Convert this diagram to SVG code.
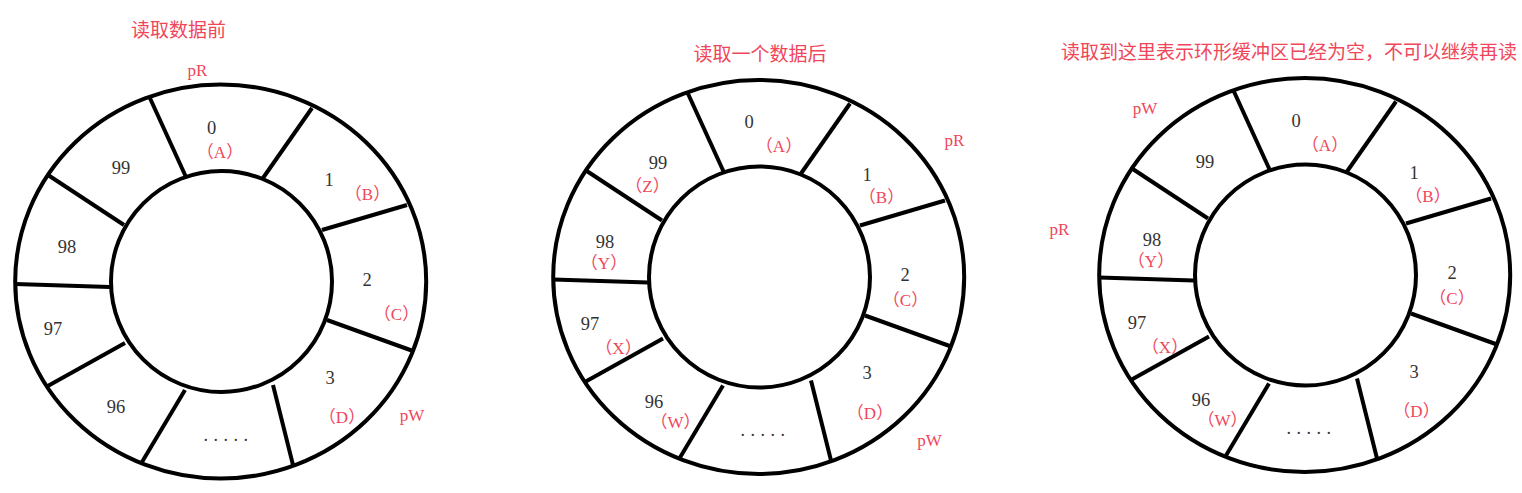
<svg xmlns="http://www.w3.org/2000/svg" xmlns:xlink="http://www.w3.org/1999/xlink" width="1522" height="493" viewBox="0 0 1522 493">
<style>
  .ring { fill: none; stroke: #000; stroke-width: 4; }
  .div { stroke: #000; stroke-width: 4; stroke-linecap: butt; }
  .num { font-family: "Liberation Serif", serif; font-size: 18.5px; fill: #333; text-anchor: middle; }
  .lbl { font-family: "Liberation Serif", "Noto Sans CJK SC", serif; font-size: 17px; fill: #f0465a; text-anchor: middle; }
  .ptr { font-family: "Liberation Serif", serif; font-size: 17px; fill: #f0465a; text-anchor: middle; }
  .title { font-family: "Noto Sans CJK SC", sans-serif; font-size: 19px; fill: #f0465a; text-anchor: middle; }
  .dots { font-family: "Liberation Serif", serif; font-size: 18px; fill: #334; letter-spacing: 5.5px; }
</style>
<defs>
  <g id="ringShape">
    <ellipse class="ring" cx="220.7" cy="281.5" rx="205.5" ry="197"/>
    <circle class="ring" cx="221.5" cy="281.5" r="110.5"/>
    <line class="div" x1="149" y1="96" x2="186" y2="177"/>
    <line class="div" x1="312" y1="108" x2="263" y2="178"/>
    <line class="div" x1="407" y1="205" x2="322" y2="230"/>
    <line class="div" x1="413" y1="351" x2="327" y2="320"/>
    <line class="div" x1="293" y1="465" x2="273" y2="385"/>
    <line class="div" x1="142" y1="462" x2="185" y2="390"/>
    <line class="div" x1="46" y1="387" x2="125" y2="343"/>
    <line class="div" x1="15" y1="284" x2="110" y2="287"/>
    <line class="div" x1="48" y1="175" x2="124" y2="225"/>
  </g>
</defs>

<g id="ring1">
  <text class="title" x="178.5" y="37">读取数据前</text>
  <use xlink:href="#ringShape" href="#ringShape"/>
  <text class="ptr" x="197.5" y="76">pR</text>
  <text class="ptr" x="412" y="421">pW</text>
  <text class="num" x="211.5" y="134">0</text>
  <text class="lbl" x="220" y="158">（A）</text>
  <text class="num" x="121" y="174">99</text>
  <text class="num" x="329" y="186">1</text>
  <text class="lbl" x="367.5" y="200">（B）</text>
  <text class="num" x="67" y="253">98</text>
  <text class="num" x="367" y="286">2</text>
  <text class="lbl" x="396.5" y="320">（C）</text>
  <text class="num" x="53" y="335">97</text>
  <text class="num" x="330" y="384">3</text>
  <text class="lbl" x="342" y="423">（D）</text>
  <text class="num" x="116" y="413">96</text>
  <text class="dots" x="203.5" y="441">.....</text>
</g>

<g id="ring2">
  <text class="title" x="760" y="61">读取一个数据后</text>
  <use xlink:href="#ringShape" href="#ringShape" transform="translate(538,-4.5)"/>
  <text class="ptr" x="954.5" y="146">pR</text>
  <text class="ptr" x="929.5" y="446">pW</text>
  <text class="num" x="749" y="128">0</text>
  <text class="lbl" x="779" y="152">（A）</text>
  <text class="num" x="658" y="169">99</text>
  <text class="lbl" x="647.5" y="192">（Z）</text>
  <text class="num" x="867" y="181">1</text>
  <text class="lbl" x="881.5" y="203">（B）</text>
  <text class="num" x="605" y="248">98</text>
  <text class="lbl" x="604" y="269">（Y）</text>
  <text class="num" x="905" y="281">2</text>
  <text class="lbl" x="905.5" y="306">（C）</text>
  <text class="num" x="590" y="330">97</text>
  <text class="lbl" x="618.5" y="354">（X）</text>
  <text class="num" x="867" y="379">3</text>
  <text class="lbl" x="870" y="419">（D）</text>
  <text class="num" x="654" y="408">96</text>
  <text class="lbl" x="675.5" y="428">（W）</text>
  <text class="dots" x="740.5" y="436">.....</text>
</g>

<g id="ring3">
  <text class="title" x="1289" y="59">读取到这里表示环形缓冲区已经为空，不可以继续再读</text>
  <use xlink:href="#ringShape" href="#ringShape" transform="translate(1084,-6.5)"/>
  <text class="ptr" x="1145" y="114">pW</text>
  <text class="ptr" x="1059.5" y="235">pR</text>
  <text class="num" x="1296" y="127">0</text>
  <text class="lbl" x="1325" y="151">（A）</text>
  <text class="num" x="1205" y="168">99</text>
  <text class="num" x="1414" y="179">1</text>
  <text class="lbl" x="1428" y="202">（B）</text>
  <text class="num" x="1152" y="246">98</text>
  <text class="lbl" x="1151" y="267">（Y）</text>
  <text class="num" x="1452" y="279">2</text>
  <text class="lbl" x="1452" y="304">（C）</text>
  <text class="num" x="1137" y="329">97</text>
  <text class="lbl" x="1165" y="353">（X）</text>
  <text class="num" x="1414" y="378">3</text>
  <text class="lbl" x="1416.5" y="417">（D）</text>
  <text class="num" x="1201" y="406">96</text>
  <text class="lbl" x="1222.5" y="426">（W）</text>
  <text class="dots" x="1286.5" y="434">.....</text>
</g>
</svg>
